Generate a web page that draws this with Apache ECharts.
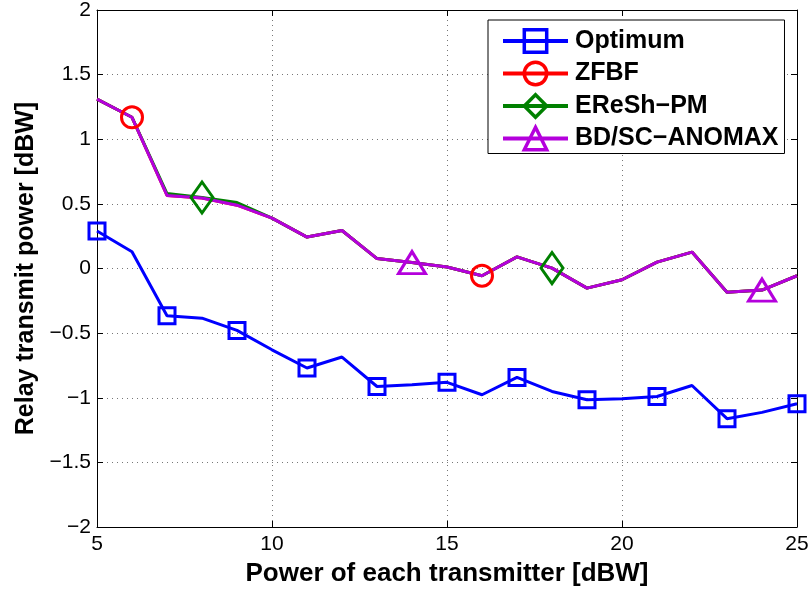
<!DOCTYPE html>
<html><head><meta charset="utf-8">
<script src="https://cdn.jsdelivr.net/npm/echarts@6/dist/echarts.min.js"></script>
<style>html,body{margin:0;padding:0;background:#fff}#c{width:809px;height:595px}</style>
</head><body><div id="c"></div>
<script>
var xVals = [5,6,7,8,9,10,11,12,13,14,15,16,17,18,19,20,21,22,23,24,25];
var optimum = [0.29,0.13,-0.366,-0.384,-0.479,-0.629,-0.770,-0.685,-0.913,-0.899,-0.881,-0.977,-0.843,-0.951,-1.015,-1.008,-0.990,-0.905,-1.162,-1.113,-1.046];
var zfbf = [1.31,1.17,0.565,0.545,0.49,0.39,0.243,0.294,0.077,0.046,0.012,-0.056,0.09,0.003,-0.152,-0.087,0.049,0.127,-0.183,-0.167,-0.056];
var ereshpm = [1.31,1.17,0.58,0.55,0.51,0.39,0.243,0.294,0.077,0.046,0.012,-0.056,0.09,0.003,-0.152,-0.087,0.049,0.127,-0.183,-0.167,-0.056];
var anomax = [1.31,1.17,0.565,0.545,0.49,0.39,0.243,0.294,0.077,0.046,0.012,-0.056,0.09,0.003,-0.152,-0.087,0.049,0.127,-0.183,-0.167,-0.056];
var optimumMarks = [5,7,9,11,13,15,17,19,21,23,25];
var zfbfMarks = [6,16];
var ereshMarks = [8,18];
var anomaxMarks = [14,24];
var names = ['Optimum','ZFBF','EReSh\u2212PM','BD/SC\u2212ANOMAX'];

function build(vals, marks){
  return xVals.map(function(x,i){
    var item = {value:[x, vals[i]]};
    if (marks.indexOf(x) < 0) item.symbol = 'none';
    return item;
  });
}
function mk(name, color, vals, marks, symbol, size){
  return {
    name: name, type:'line', data: build(vals, marks),
    symbol: symbol, symbolSize: size, showAllSymbol: true,
    lineStyle:{color:color, width:3},
    itemStyle:{color:'rgba(255,255,255,0)', borderColor:color, borderWidth:3},
    emphasis:{disabled:true}, animation:false, z:2
  };
}
var font = 'Liberation Sans, Arial, Helvetica, sans-serif';
var fmt = function(v){ return String(v).replace('-', '\u2212'); };
var chart = echarts.init(document.getElementById('c'), null, {renderer:'canvas'});
chart.setOption({
  animation:false,
  backgroundColor:'#fff',
  grid:{left:97, right:12, top:10, bottom:68, outerBoundsMode:'none', containLabel:false},
  legend:{
    left:488, top:20, orient:'vertical',
    backgroundColor:'#fff', borderColor:'#000', borderWidth:1,
    padding:[8,6,2,13], itemGap:6.5, itemWidth:65, itemHeight:28,
    lineStyle:{width:4},
    itemStyle:{borderWidth:3.5},
    textStyle:{fontFamily:font, fontWeight:'bold', fontSize:25, lineHeight:26, color:'#000', padding:[0,0,0,2]},
    data: names
  },
  xAxis:[{
    type:'value', min:5, max:25, interval:5,
    name:'Power of each transmitter [dBW]', nameLocation:'middle', nameGap:34,
    nameTextStyle:{fontFamily:font, fontWeight:'bold', fontSize:26, color:'#000'},
    axisLine:{show:true, onZero:false, lineStyle:{color:'#000', width:1}},
    axisTick:{show:true, inside:true, length:6, lineStyle:{color:'#000'}},
    axisLabel:{fontFamily:font, fontSize:21, color:'#000', margin:7, formatter:fmt},
    splitLine:{show:true, lineStyle:{color:'#777', type:[1,4], width:1}}
  },{
    type:'value', min:5, max:25, interval:5, position:'top',
    axisLine:{show:true, onZero:false, lineStyle:{color:'#000', width:1}},
    axisTick:{show:true, inside:true, length:6, lineStyle:{color:'#000'}},
    axisLabel:{show:false}, splitLine:{show:false}
  }],
  yAxis:[{
    type:'value', min:-2, max:2, interval:0.5,
    name:'Relay transmit power [dBW]', nameLocation:'middle', nameGap:53, nameRotate:90,
    nameTextStyle:{fontFamily:font, fontWeight:'bold', fontSize:25, color:'#000'},
    axisLine:{show:true, onZero:false, lineStyle:{color:'#000', width:1}},
    axisTick:{show:true, inside:true, length:6, lineStyle:{color:'#000'}},
    axisLabel:{fontFamily:font, fontSize:21, color:'#000', margin:6, formatter:fmt},
    splitLine:{show:true, lineStyle:{color:'#777', type:[1,4], width:1}}
  },{
    type:'value', min:-2, max:2, interval:0.5, position:'right',
    axisLine:{show:true, onZero:false, lineStyle:{color:'#000', width:1}},
    axisTick:{show:true, inside:true, length:6, lineStyle:{color:'#000'}},
    axisLabel:{show:false}, splitLine:{show:false}
  }],
  series:[
    mk(names[0], '#0000ff', optimum, optimumMarks, 'rect', 16),
    mk(names[1], '#ff0000', zfbf, zfbfMarks, 'circle', 21),
    mk(names[2], '#008000', ereshpm, ereshMarks, 'diamond', [22,31]),
    mk(names[3], '#b400dc', anomax, anomaxMarks, 'triangle', [27,22])
  ]
});
</script></body></html>
